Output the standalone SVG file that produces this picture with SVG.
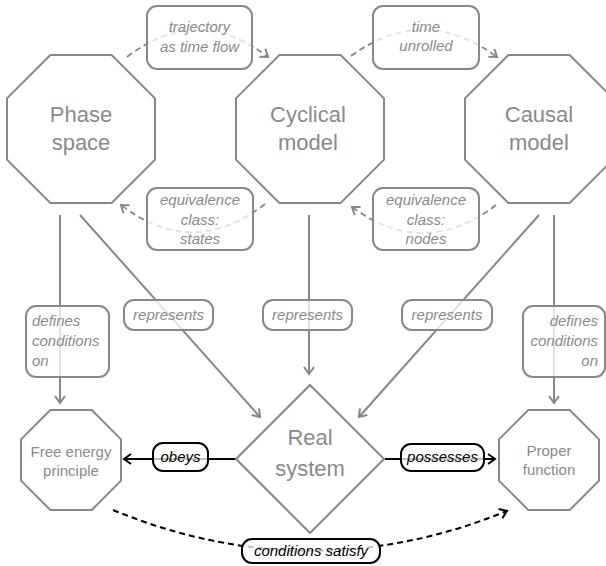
<svg xmlns="http://www.w3.org/2000/svg" width="606" height="566" viewBox="0 0 606 566">
  <defs>
    <style>
      .node { fill: #ffffff; stroke: #888888; stroke-width: 2; }
      .title { font-family: "Liberation Sans", Arial, sans-serif; font-size: 22px; fill: #8a8a8a; text-anchor: middle; }
      .small { font-family: "Liberation Sans", Arial, sans-serif; font-size: 15px; fill: #8a8a8a; text-anchor: middle; }
      .edge { fill: none; stroke: #888888; stroke-width: 2; }
      .dash { stroke-dasharray: 6 4; stroke-width: 1.8; }
      .edge-k { fill: none; stroke: #000000; stroke-width: 2; }
      .lbl { fill: #ffffff; fill-opacity: 0.75; stroke: #888888; stroke-width: 2; }
      .lbl-k { fill: #ffffff; fill-opacity: 0.75; stroke: #000000; stroke-width: 2; }
      .lt { font-family: "Liberation Sans", Arial, sans-serif; font-size: 15px; font-style: italic; fill: #8a8a8a; text-anchor: middle; }
      .lt.start { text-anchor: start; }
      .lt.end { text-anchor: end; }
      .lt-k { font-family: "Liberation Sans", Arial, sans-serif; font-size: 15px; font-style: italic; fill: #000000; text-anchor: middle; }
    </style>
    <marker id="arrow-g" viewBox="0 0 10 12" refX="8" refY="6" markerWidth="10" markerHeight="12" markerUnits="userSpaceOnUse" orient="auto">
      <path d="M1,1 L8,6 L1,11" fill="none" stroke="#888888" stroke-width="2"/>
    </marker>
    <marker id="arrow-k" viewBox="0 0 10 12" refX="8" refY="6" markerWidth="10" markerHeight="12" markerUnits="userSpaceOnUse" orient="auto">
      <path d="M1,1 L8,6 L1,11" fill="none" stroke="#000000" stroke-width="2"/>
    </marker>
  </defs>

  <rect width="606" height="566" fill="#ffffff"/>

  <!-- connectors and their labels -->
  <g id="connectors">
    <!-- model transitions (dashed arcs) -->
    <path class="edge dash" d="M127,57 Q198,3 268,57" marker-end="url(#arrow-g)"/>
    <path class="edge dash" d="M351,56 Q424,3 497,57" marker-end="url(#arrow-g)"/>
    <path class="edge dash" d="M265,204 Q193,260 121,205" marker-end="url(#arrow-g)"/>
    <path class="edge dash" d="M496,205 Q424,260 352,207" marker-end="url(#arrow-g)"/>

    <!-- defines / represents -->
    <path class="edge" d="M60,215 L60,403" marker-end="url(#arrow-g)"/>
    <path class="edge" d="M309,215 L309,374" marker-end="url(#arrow-g)"/>
    <path class="edge" d="M554,215 L554,403" marker-end="url(#arrow-g)"/>
    <path class="edge" d="M80,215 L260,417" marker-end="url(#arrow-g)"/>
    <path class="edge" d="M539,215 L359,417" marker-end="url(#arrow-g)"/>

    <!-- real system relations -->
    <path class="edge-k" d="M236,459 L124,459" marker-end="url(#arrow-k)"/>
    <path class="edge-k" d="M385,459 L495,459" marker-end="url(#arrow-k)"/>
    <path class="edge-k" d="M113,510 Q310,591 507,511" stroke-dasharray="6 4" marker-end="url(#arrow-k)"/>

    <!-- labels -->
    <g id="lbl-trajectory">
      <rect class="lbl" x="147" y="6" width="105" height="63" rx="10"/>
      <text class="lt" x="199.5" y="32">trajectory</text>
      <text class="lt" x="199.5" y="52">as time flow</text>
    </g>
    <g id="lbl-unrolled">
      <rect class="lbl" x="373" y="6" width="106" height="63" rx="10"/>
      <text class="lt" x="426" y="32">time</text>
      <text class="lt" x="426" y="51">unrolled</text>
    </g>
    <g id="lbl-states">
      <rect class="lbl" x="147" y="188" width="106" height="62" rx="10"/>
      <text class="lt" x="200" y="205">equivalence</text>
      <text class="lt" x="200" y="225">class:</text>
      <text class="lt" x="200" y="244">states</text>
    </g>
    <g id="lbl-nodes">
      <rect class="lbl" x="373" y="188" width="106" height="62" rx="10"/>
      <text class="lt" x="426" y="205">equivalence</text>
      <text class="lt" x="426" y="225">class:</text>
      <text class="lt" x="426" y="244">nodes</text>
    </g>
    <g id="lbl-defines-left">
      <rect class="lbl" x="26" y="306" width="83" height="71" rx="10"/>
      <text class="lt start" x="32" y="326">defines</text>
      <text class="lt start" x="32" y="346">conditions</text>
      <text class="lt start" x="32" y="366">on</text>
    </g>
    <g id="lbl-defines-right">
      <rect class="lbl" x="523" y="306" width="82" height="71" rx="10"/>
      <text class="lt end" x="598" y="326">defines</text>
      <text class="lt end" x="598" y="346">conditions</text>
      <text class="lt end" x="598" y="366">on</text>
    </g>
    <g id="lbl-represents-1">
      <rect class="lbl" x="124" y="300" width="89" height="30" rx="10"/>
      <text class="lt" x="168.5" y="320">represents</text>
    </g>
    <g id="lbl-represents-2">
      <rect class="lbl" x="263" y="300" width="89" height="30" rx="10"/>
      <text class="lt" x="307.5" y="320">represents</text>
    </g>
    <g id="lbl-represents-3">
      <rect class="lbl" x="402" y="300" width="90" height="30" rx="10"/>
      <text class="lt" x="447" y="320">represents</text>
    </g>
    <g id="lbl-obeys">
      <rect class="lbl-k" x="153" y="443" width="55" height="28" rx="10"/>
      <text class="lt-k" x="180.5" y="462">obeys</text>
    </g>
    <g id="lbl-possesses">
      <rect class="lbl-k" x="401" y="444" width="83" height="27" rx="10"/>
      <text class="lt-k" x="442.5" y="462">possesses</text>
    </g>
    <g id="lbl-satisfy">
      <rect class="lbl-k" x="242" y="539" width="138" height="24" rx="10"/>
      <text class="lt-k" x="311" y="556">conditions satisfy</text>
    </g>
  </g>

  <!-- nodes -->
  <g id="phase-space">
    <polygon class="node" points="50.4,55 111.6,55 155,98.4 155,159.6 111.6,203 50.4,203 7,159.6 7,98.4"/>
    <text class="title" x="81" y="122">Phase</text>
    <text class="title" x="81" y="150">space</text>
  </g>
  <g id="cyclical-model">
    <polygon class="node" points="279.4,55 340.6,55 384,98.4 384,159.6 340.6,203 279.4,203 236,159.6 236,98.4"/>
    <text class="title" x="308" y="122">Cyclical</text>
    <text class="title" x="308" y="150">model</text>
  </g>
  <g id="causal-model">
    <polygon class="node" points="508.4,55 569.6,55 613,98.4 613,159.6 569.6,203 508.4,203 465,159.6 465,98.4"/>
    <text class="title" x="539" y="122">Causal</text>
    <text class="title" x="539" y="150">model</text>
  </g>
  <g id="free-energy-principle">
    <polygon class="node" points="50.3,410 91.7,410 121,439.3 121,480.7 91.7,510 50.3,510 21,480.7 21,439.3"/>
    <text class="small" x="71" y="457">Free energy</text>
    <text class="small" x="71" y="476">principle</text>
  </g>
  <g id="real-system">
    <polygon class="node" points="310,385 384,459 310,533 236,459"/>
    <text class="title" x="310" y="445">Real</text>
    <text class="title" x="310" y="476">system</text>
  </g>
  <g id="proper-function">
    <polygon class="node" points="528.3,410 569.7,410 599,439.3 599,480.7 569.7,510 528.3,510 499,480.7 499,439.3"/>
    <text class="small" x="549" y="456">Proper</text>
    <text class="small" x="549" y="475">function</text>
  </g>
</svg>
